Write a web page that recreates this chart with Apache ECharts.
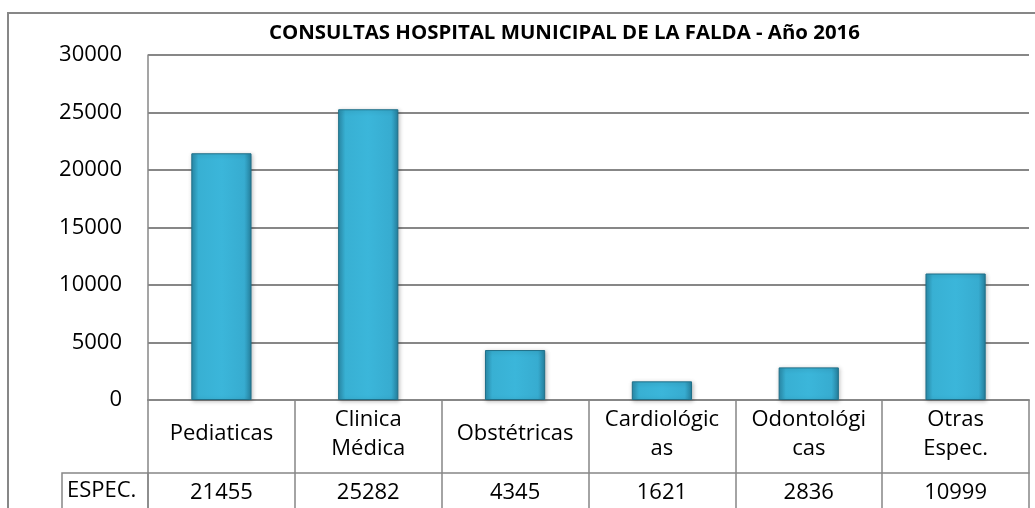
<!DOCTYPE html>
<html><head><meta charset="utf-8">
<script src="https://cdn.jsdelivr.net/npm/echarts@6/dist/echarts.min.js"></script>
<style>html,body{margin:0;padding:0;background:#fff}#c{width:1035px;height:508px}</style>
</head><body><div id="c"></div>
<script>
const titleText = 'CONSULTAS HOSPITAL MUNICIPAL DE LA FALDA - Año 2016';
const categories = ['Pediaticas', 'Clinica\nMédica', 'Obstétricas', 'Cardiológic\nas', 'Odontológi\ncas', 'Otras\nEspec.'];
const seriesName = 'ESPEC.';
const values = [21455, 25282, 4345, 1621, 2836, 10999];
const yMin = 0, yMax = 30000, yStep = 5000;

const FONT = '"Open Sans", sans-serif';
const GRAY = '#878787';
const chart = echarts.init(document.getElementById('c'), null, {renderer: 'canvas'});
chart.setOption({
  animation: false,
  backgroundColor: '#fff',
  title: {
    text: titleText, left: 264, top: 18,
    textStyle: {fontFamily: FONT, fontWeight: 'bold', fontSize: 20.4, color: '#000'}
  },
  grid: {left: 148, right: 6, top: 55, bottom: 108},
  xAxis: [{
    type: 'category', data: categories, position: 'bottom',
    axisLine: {show: true, lineStyle: {color: GRAY, width: 2}},
    axisTick: {show: true, interval: 0, length: 73, lineStyle: {color: GRAY, width: 1.5}},
    axisLabel: {interval: 0, margin: 34, verticalAlign: 'middle', fontFamily: FONT, fontSize: 22, color: '#000', lineHeight: 29}
  }, {
    type: 'category', data: values.map(v => String(v)), position: 'bottom', offset: 73,
    axisLine: {show: true, lineStyle: {color: GRAY, width: 1.5}},
    axisTick: {show: true, interval: 0, length: 40, lineStyle: {color: GRAY, width: 1.5}},
    axisLabel: {interval: 0, margin: 20, verticalAlign: 'middle', fontFamily: FONT, fontSize: 22, color: '#000'}
  }],
  yAxis: {
    type: 'value', min: yMin, max: yMax, interval: yStep,
    axisLine: {show: true, lineStyle: {color: GRAY, width: 1.5}},
    axisTick: {show: false},
    splitLine: {lineStyle: {color: GRAY, width: 2}},
    axisLabel: {margin: 26, fontFamily: FONT, fontSize: 22, color: '#000', formatter: v => String(v)}
  },
  series: [{
    name: seriesName, type: 'bar', data: values, barWidth: '41%', xAxisIndex: 0,
    itemStyle: {
      color: new echarts.graphic.LinearGradient(0, 0, 1, 0, [
        {offset: 0, color: '#2a8cab'}, {offset: 0.12, color: '#38b0d3'},
        {offset: 0.5, color: '#3bb6da'}, {offset: 0.88, color: '#37acd0'}, {offset: 1, color: '#25809e'}
      ]),
      borderColor: '#1f6f88', borderWidth: 1,
      shadowColor: 'rgba(0,0,0,0.25)', shadowBlur: 4, shadowOffsetX: 1, shadowOffsetY: 1
    }
  }],
  graphic: [
    {type: 'rect', shape: {x: 8, y: 13, width: 1100, height: 600}, style: {fill: 'none', stroke: GRAY, lineWidth: 2}, silent: true, z: -1},
    {type: 'rect', shape: {x: 62, y: 473, width: 86, height: 60}, style: {fill: 'none', stroke: GRAY, lineWidth: 1.5}, silent: true},
    {type: 'text', left: 67, top: 480, style: {text: seriesName, font: '22px "Open Sans", sans-serif', fill: '#000'}}
  ]
});
</script></body></html>
